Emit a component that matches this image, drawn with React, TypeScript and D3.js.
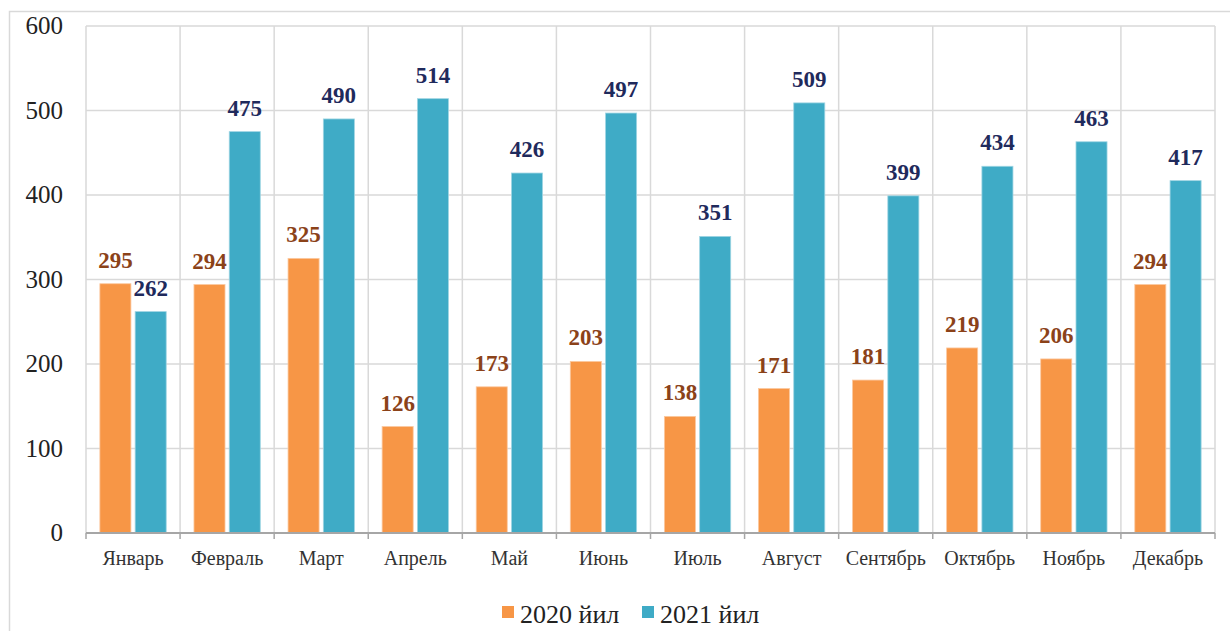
import React from "react";
import * as d3 from "d3";

const months = ["Январь", "Февраль", "Март", "Апрель", "Май", "Июнь", "Июль", "Август", "Сентябрь", "Октябрь", "Ноябрь", "Декабрь"];
const values2020 = [295, 294, 325, 126, 173, 203, 138, 171, 181, 219, 206, 294];
const values2021 = [262, 475, 490, 514, 426, 497, 351, 509, 399, 434, 463, 417];
const yTicks = [0, 100, 200, 300, 400, 500, 600];
const seriesNames = ["2020 йил", "2021 йил"];

const W = 1230, H = 631;
const left = 86, right = 1215, top = 26, bottom = 533;
const orange = "#F79646", teal = "#3FABC6";
const orangeLabel = "#8B4219", tealLabel = "#1F2A5C";
const font = "Liberation Serif, DejaVu Serif, serif";

export default function App() {
  const x = d3.scaleBand<string>().domain(months).range([left, right]).paddingInner(0).paddingOuter(0);
  const y = d3.scaleLinear().domain([0, 600]).range([bottom, top]);
  const bw = x.bandwidth();
  const barW = bw * 0.33;
  const gap = bw * 0.045;
  const off1 = (bw - 2 * barW - gap) / 2;
  return (
    <svg width={W} height={H} style={{ position: "absolute", left: 0, top: 0, background: "#fff", fontFamily: font }}>
      <rect x={9.5} y={11.5} width={W} height={H} fill="#fff" stroke="#d9d9d9" strokeWidth={1.5} />
      {yTicks.map(t => (
        <line key={"h" + t} x1={left} x2={right} y1={y(t)} y2={y(t)} stroke="#d9d9d9" strokeWidth={1.5} />
      ))}
      {d3.range(months.length + 1).map(i => {
        const xx = i < months.length ? x(months[i])! : right;
        return <line key={"v" + i} x1={xx} x2={xx} y1={top} y2={bottom} stroke="#d9d9d9" strokeWidth={1.5} />;
      })}
      {months.map((m, i) => {
        const x0 = x(m)! + off1;
        const x1 = x0 + barW + gap;
        return (
          <g key={m}>
            <rect x={x0} y={y(values2020[i])} width={barW} height={bottom - y(values2020[i])} fill={orange} stroke="#fbc9a0" strokeWidth={0.8} />
            <rect x={x1} y={y(values2021[i])} width={barW} height={bottom - y(values2021[i])} fill={teal} stroke="#9fd5e3" strokeWidth={0.8} />
            <text x={x0 + barW / 2} y={y(values2020[i]) - 16} textAnchor="middle" fontSize={23} fontWeight="bold" fill={orangeLabel}>{values2020[i]}</text>
            <text x={x1 + barW / 2} y={y(values2021[i]) - 16} textAnchor="middle" fontSize={23} fontWeight="bold" fill={tealLabel}>{values2021[i]}</text>
            <text x={x(m)! + bw / 2} y={565} textAnchor="middle" fontSize={20} fill="#333">{m}</text>
          </g>
        );
      })}
      <line x1={left} x2={right} y1={bottom} y2={bottom} stroke="#a6a6a6" strokeWidth={2} />
      {d3.range(months.length + 1).map(i => {
        const xx = i < months.length ? x(months[i])! : right;
        return <line key={"t" + i} x1={xx} x2={xx} y1={bottom} y2={bottom + 6} stroke="#a6a6a6" strokeWidth={1.5} />;
      })}
      {yTicks.map(t => (
        <text key={"yl" + t} x={63} y={y(t)} dy="0.33em" textAnchor="end" fontSize={25} fill="#222">{t}</text>
      ))}
      <g>
        <rect x={502} y={606} width={12} height={12} fill={orange} />
        <text x={520} y={623} fontSize={26} fill="#222">{seriesNames[0]}</text>
        <rect x={642} y={606} width={12} height={12} fill={teal} />
        <text x={660} y={623} fontSize={26} fill="#222">{seriesNames[1]}</text>
      </g>
    </svg>
  );
}
